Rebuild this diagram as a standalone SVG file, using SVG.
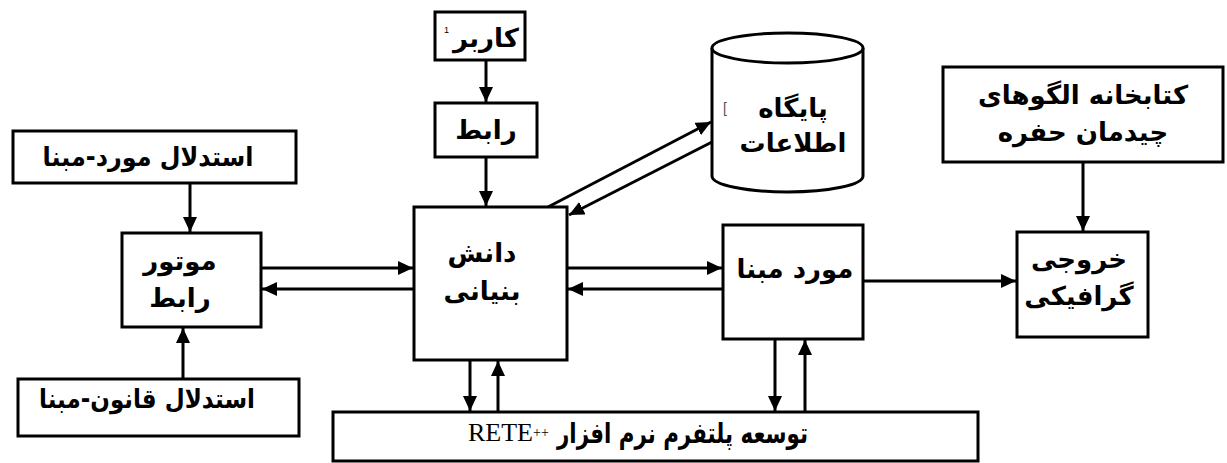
<svg xmlns="http://www.w3.org/2000/svg" width="1227" height="463" viewBox="0 0 1227 463">
<style>
.box{fill:#fff;stroke:#000;stroke-width:3}
.fa{font-family:"DejaVu Sans","Noto Sans",sans-serif;font-weight:bold;font-size:26px;fill:#000;text-anchor:middle}
.ln{stroke:#000;stroke-width:3;fill:none}
</style>
<defs>
<marker id="ah" markerUnits="userSpaceOnUse" markerWidth="16" markerHeight="14" refX="15" refY="7" orient="auto">
<path d="M0,0 L15,7 L0,14 z" fill="#000"/>
</marker>
</defs>
<rect width="1227" height="463" fill="#fff"/>
<g id="connectors">
<line class="ln" x1="190" y1="183" x2="190" y2="232" marker-end="url(#ah)"/>
<line class="ln" x1="183" y1="379" x2="183" y2="328" marker-end="url(#ah)"/>
<line class="ln" x1="261" y1="268" x2="413" y2="268" marker-end="url(#ah)"/>
<line class="ln" x1="414" y1="289" x2="262" y2="289" marker-end="url(#ah)"/>
<line class="ln" x1="486" y1="60" x2="486" y2="102" marker-end="url(#ah)"/>
<line class="ln" x1="486" y1="157" x2="486" y2="206" marker-end="url(#ah)"/>
<line class="ln" x1="548" y1="207" x2="711" y2="122" marker-end="url(#ah)"/>
<line class="ln" x1="712" y1="142" x2="569" y2="215" marker-end="url(#ah)"/>
<line class="ln" x1="567" y1="268" x2="722" y2="268" marker-end="url(#ah)"/>
<line class="ln" x1="723" y1="289" x2="568" y2="289" marker-end="url(#ah)"/>
<line class="ln" x1="470" y1="360" x2="470" y2="411" marker-end="url(#ah)"/>
<line class="ln" x1="498" y1="412" x2="498" y2="361" marker-end="url(#ah)"/>
<line class="ln" x1="775" y1="339" x2="775" y2="411" marker-end="url(#ah)"/>
<line class="ln" x1="805" y1="412" x2="805" y2="340" marker-end="url(#ah)"/>
<line class="ln" x1="863" y1="281" x2="1016" y2="281" marker-end="url(#ah)"/>
<line class="ln" x1="1083" y1="162" x2="1083" y2="231" marker-end="url(#ah)"/>
</g>
<g id="case-reasoning">
<rect class="box" x="13" y="131" width="283" height="52"/>
<text class="fa" x="148" y="166" textLength="211" lengthAdjust="spacingAndGlyphs">استدلال مورد-مبنا</text>
</g>
<g id="motor">
<rect class="box" x="122" y="233" width="139" height="94"/>
<text class="fa" x="180" y="270">موتور</text>
<text class="fa" x="180" y="307">رابط</text>
</g>
<g id="rule-reasoning">
<rect class="box" x="18" y="379" width="281" height="57"/>
<text class="fa" x="147" y="408" textLength="216" lengthAdjust="spacingAndGlyphs">استدلال قانون-مبنا</text>
</g>
<g id="user">
<rect class="box" x="435" y="12" width="90" height="48"/>
<text class="fa" x="486" y="47">کاربر</text>
<text x="444" y="33" style="font-family:'Liberation Sans',sans-serif;font-size:9px">1</text>
</g>
<g id="interface">
<rect class="box" x="435" y="103" width="102" height="54"/>
<text class="fa" x="486" y="139">رابط</text>
</g>
<g id="database">
<path d="M712,48 L712,176 A75.5,16 0 0 0 863,176 L863,48" class="box"/>
<ellipse cx="787.5" cy="48" rx="75.5" ry="15" class="box"/>
<text x="723" y="113" style="font-family:'Liberation Sans',sans-serif;font-size:14px;fill:#555">[</text>
<text class="fa" x="793" y="117">پایگاه</text>
<text class="fa" x="793" y="152">اطلاعات</text>
</g>
<g id="knowledge">
<rect class="box" x="414" y="207" width="153" height="153"/>
<text class="fa" x="482" y="262">دانش</text>
<text class="fa" x="482" y="300">بنیانی</text>
</g>
<g id="case-based">
<rect class="box" x="723" y="225" width="140" height="114"/>
<text class="fa" x="795" y="278">مورد مبنا</text>
</g>
<g id="library">
<rect class="box" x="943" y="67" width="280" height="95"/>
<text class="fa" x="1083" y="104">کتابخانه الگوهای</text>
<text class="fa" x="1083" y="141">چیدمان حفره</text>
</g>
<g id="output">
<rect class="box" x="1017" y="232" width="131" height="105"/>
<text class="fa" x="1079" y="268">خروجی</text>
<text class="fa" x="1079" y="305">گرافیکی</text>
</g>
<g id="platform">
<rect class="box" x="333" y="412" width="645" height="49"/>
<text class="fa" x="808" y="443" style="text-anchor:end;font-size:28px" textLength="251" lengthAdjust="spacingAndGlyphs">توسعه پلتفرم نرم افزار</text>
<text x="468" y="441" style="font-family:'Liberation Serif',serif;font-size:26px">RETE<tspan font-size="14" dy="-4">++</tspan></text>
</g>
</svg>
